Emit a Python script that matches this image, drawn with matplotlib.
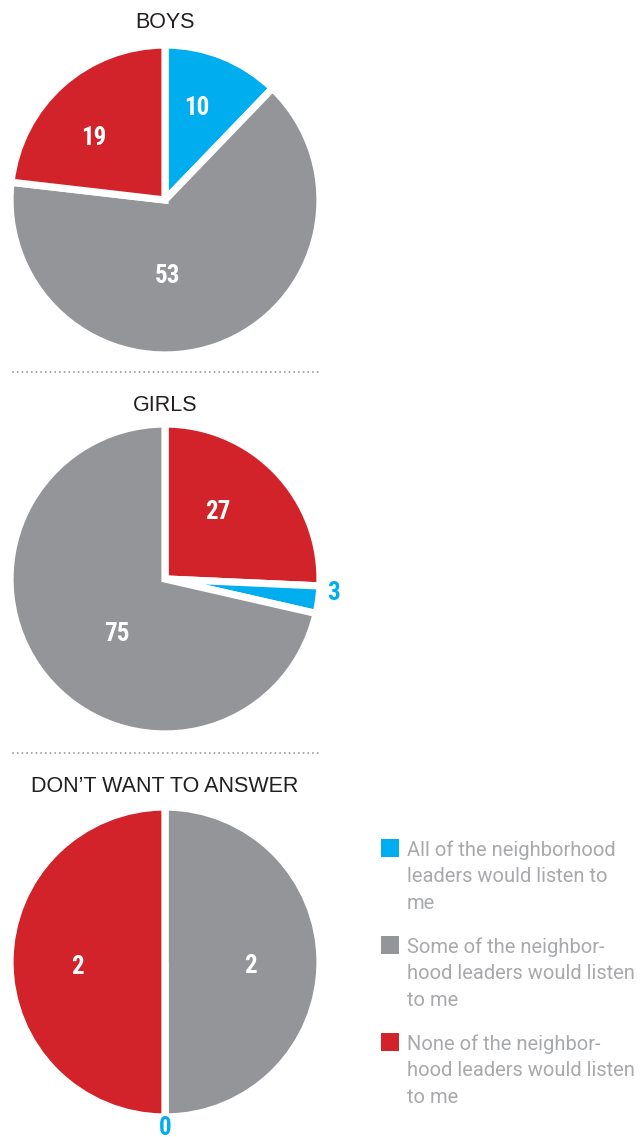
import matplotlib
matplotlib.use("Agg")
import matplotlib.pyplot as plt
import numpy as np
from matplotlib.lines import Line2D
from matplotlib.patches import Rectangle

W, H = 640, 1137

# answers, in legend order
categories = [
    "All of the neighborhood\nleaders would listen to\nme",
    "Some of the neighbor-\nhood leaders would listen\nto me",
    "None of the neighbor-\nhood leaders would listen\nto me",
]
colors = ["#00aeef", "#939598", "#d2232a"]

groups = ["BOYS", "GIRLS", "DON\u2019T WANT TO ANSWER"]
boys = [10, 53, 19]
girls = [3, 75, 27]
no_answer = [0, 2, 2]
values = [boys, girls, no_answer]

# clockwise slice order from 12 o'clock, per pie
orders = [[0, 1, 2], [2, 0, 1], [1, 0, 2]]

# pie centres (px) and radius
centres = [(165, 200), (165, 579), (165, 962)]
radius = 155
title_y = [22, 406, 787]
sep_y = [372, 753]

# number placement per category: radius fraction and angle nudge (deg)
label_r = [[0.63, 0.49, 0.61], [1.09, 0.47, 0.55], [1.07, 0.55, 0.565]]
label_shift = [[3, -18, 7], [3, 10, 8], [0, -3, 3]]

num_font = ["Roboto Condensed", "DejaVu Sans"]
title_font = ["Liberation Sans", "DejaVu Sans"]
legend_font = ["Roboto", "DejaVu Sans"]


def px_rect(x0, y0, w, h):
    return [x0 / W, 1 - (y0 + h) / H, w / W, h / H]


fig = plt.figure(figsize=(W / 100, H / 100), dpi=100)
fig.patch.set_facecolor("white")

for g, (cx, cy) in enumerate(centres):
    ax = fig.add_axes(px_rect(cx - radius, cy - radius, 2 * radius, 2 * radius))
    order = orders[g]
    vals = [values[g][i] for i in order]
    wedges, _ = ax.pie(vals, colors=[colors[i] for i in order], startangle=90,
                       counterclock=False,
                       wedgeprops=dict(edgecolor="white", linewidth=5.2))
    ax.set_xlim(-1, 1)
    ax.set_ylim(-1, 1)
    ax.set_aspect("equal")
    ax.axis("off")

    for w, i in zip(wedges, order):
        mid = (w.theta1 + w.theta2) / 2 + label_shift[g][i]
        r = label_r[g][i]
        x = r * np.cos(np.radians(mid))
        y = r * np.sin(np.radians(mid))
        inside = r < 1
        ax.text(x, y, str(values[g][i]), ha="center", va="center",
                fontsize=18, fontweight="bold", family=num_font,
                color="white" if inside else colors[i], clip_on=False)

    fig.text(cx / W, 1 - title_y[g] / H, groups[g], ha="center", va="center",
             fontsize=15.5, family=title_font, color="#231f20")

for y in sep_y:
    fig.add_artist(Line2D([13 / W, 320 / W], [1 - y / H, 1 - y / H],
                          transform=fig.transFigure, color="#9a9a9a",
                          linewidth=1.4, linestyle=(0, (0.01, 2.4)),
                          dash_capstyle="round"))

# legend
leg_y = [839, 936, 1033]
for k, label in enumerate(categories):
    y0 = leg_y[k]
    fig.add_artist(Rectangle((381 / W, 1 - (y0 + 18) / H), 18 / W, 18 / H,
                             transform=fig.transFigure, facecolor=colors[k],
                             edgecolor="none"))
    fig.text(407 / W, 1 - (y0 + 1) / H, label, ha="left", va="top",
             fontsize=14.5, family=legend_font, color="#a7a9ac",
             linespacing=1.5)

fig.savefig("out.png", dpi=100, facecolor="white")
